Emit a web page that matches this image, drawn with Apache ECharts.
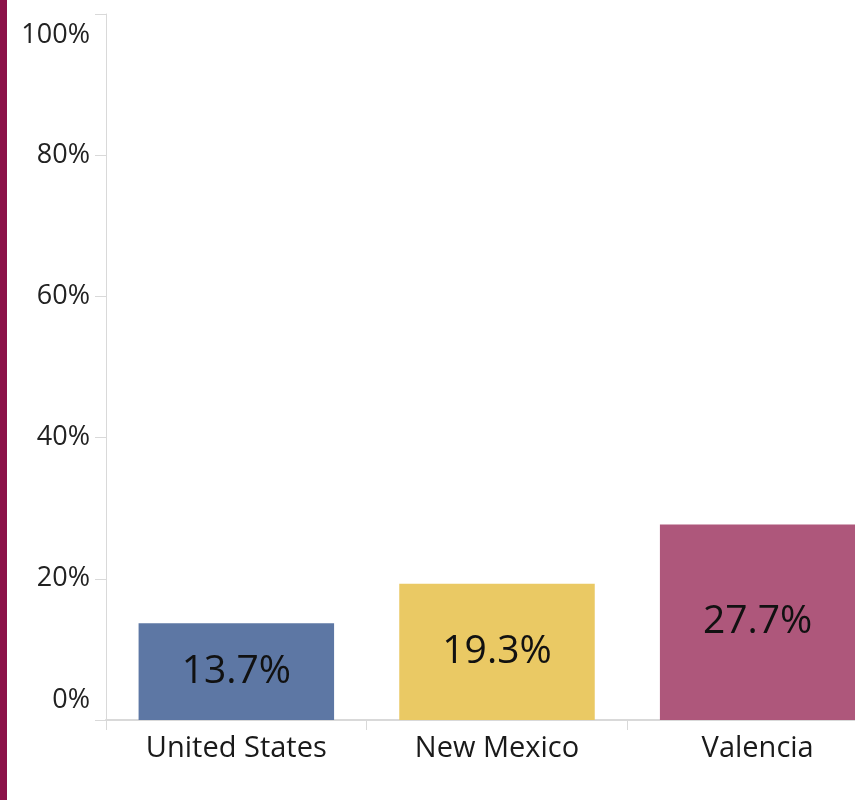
<!DOCTYPE html>
<html>
<head>
<meta charset="utf-8">
<script src="https://cdn.jsdelivr.net/npm/echarts@6/dist/echarts.min.js"></script>
<style>
  html, body { margin: 0; padding: 0; background: #fff; }
  #stripe { position: absolute; left: 0; top: 0; width: 7px; height: 800px; background: #8c1249; }
  #chart { width: 855px; height: 800px; }
</style>
</head>
<body>
<div id="stripe"></div>
<div id="chart"></div>
<script>
const categories = ['United States', 'New Mexico', 'Valencia'];
const values = [13.7, 19.3, 27.7];
const barColors = ['#5d77a4', '#eac964', '#ae577b'];

const chart = echarts.init(document.getElementById('chart'), null, { renderer: 'canvas' });

const fontFamily = '"Open Sans", Lato, sans-serif';
const axisGray = '#d9d9d9';

const option = {
  animation: false,
  grid: { left: 106, top: 14, bottom: 80, right: -33, outerBoundsMode: 'none', containLabel: false },
  xAxis: {
    type: 'category',
    data: categories,
    axisLine: { lineStyle: { color: axisGray, width: 2 } },
    axisTick: { show: true, length: 10, lineStyle: { color: axisGray } },
    axisLabel: { color: '#1a1a1a', fontSize: 29, fontFamily: fontFamily, margin: 14 }
  },
  yAxis: {
    type: 'value',
    min: 0,
    max: 100,
    interval: 20,
    splitLine: { show: false },
    axisLine: { show: true, lineStyle: { color: axisGray } },
    axisTick: { show: true, length: 11, lineStyle: { color: axisGray } },
    axisLabel: {
      color: '#222',
      fontSize: 27,
      fontFamily: fontFamily,
      margin: 16,
      formatter: function (v) {
        if (v === 100) return '{top|100%}';
        if (v === 0) return '{bot|0%}';
        return v + '%';
      },
      rich: {
        top: { fontSize: 27, fontFamily: fontFamily, color: '#222', padding: [42, 0, 0, 0] },
        bot: { fontSize: 27, fontFamily: fontFamily, color: '#222', padding: [0, 0, 40, 0] }
      }
    }
  },
  series: [{
    type: 'bar',
    barWidth: '75%',
    data: values.map(function (v, i) {
      return { value: v, itemStyle: { color: barColors[i] } };
    }),
    label: {
      show: true,
      position: 'inside',
      color: '#111',
      fontSize: 39,
      fontFamily: fontFamily,
      formatter: function (p) { return p.value.toFixed(1) + '%'; }
    }
  }]
};

chart.setOption(option);
</script>
</body>
</html>
